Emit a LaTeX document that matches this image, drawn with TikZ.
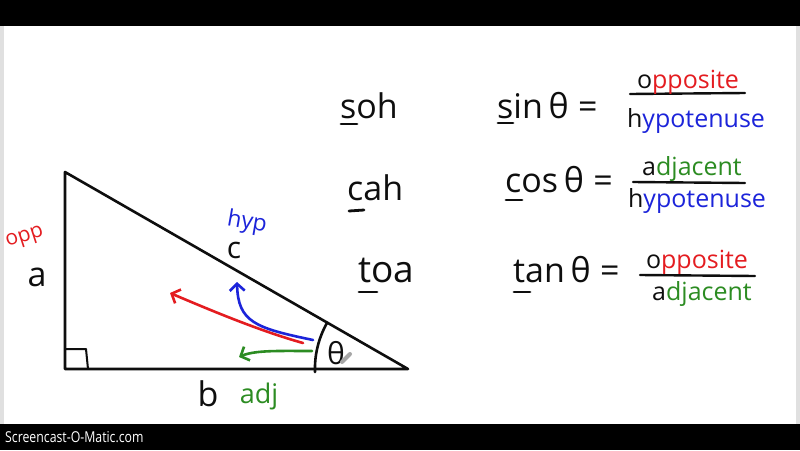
\documentclass[tikz,border=0pt]{standalone}
\usepackage{fontspec}
\setmainfont{Open Sans}
\newfontfamily\scfont[FakeStretch=0.82]{Open Sans}
\usetikzlibrary{arrows.meta,calc}
\definecolor{pred}{RGB}{228,28,32}
\definecolor{pblue}{RGB}{28,36,218}
\definecolor{pgreen}{RGB}{44,140,34}
\definecolor{ink}{RGB}{14,14,14}
\begin{document}
\begin{tikzpicture}[x=1pt,y=-1pt,
  big/.style={font=\fontsize{34}{38}\selectfont, text=ink, inner sep=0pt, anchor=base west},
  frac/.style={font=\fontsize{25}{28}\selectfont, text=ink, inner sep=0pt, anchor=base},
  lbl/.style={inner sep=0pt},
  pen/.style={line width=2.6pt, line cap=round, line join=round, draw=ink},
  uline/.style={line width=2.8pt, line cap=round, draw=ink},
  fracline/.style={line width=2.4pt, line cap=round, draw=ink},
  arr/.style={line width=2.6pt, line cap=round, line join=round,
    -{Straight Barb[length=7pt,width=15pt,line width=2.6pt]}}]
\useasboundingbox (0,0) rectangle (800,450);
% background and bars
\fill[white] (0,0) rectangle (800,450);
\fill[black!12] (0,26) rectangle (4,424);
\fill[black!12] (796,26) rectangle (800,424);
\fill[black] (0,0) rectangle (800,26);
\fill[black] (0,424) rectangle (800,450);
\node[anchor=base west, text=white, inner sep=0pt, font=\scfont\fontsize{15}{16}\selectfont] (sc) at (5,442) {Screencast-O-Matic.com};

% triangle
\coordinate (A) at (65,172);
\coordinate (C) at (65,369);
\coordinate (B) at (408,369);
\draw[pen] (A) -- (C) -- (B) -- cycle;
% right angle mark
\draw[line width=2pt, draw=ink, line join=round] (65,349) -- (86,349) -- (88,369);
% angle arc
\draw[pen] ($(B)+(-93,3)$) arc[start angle=178, end angle=209.7, radius=93];
\node[lbl, font=\fontsize{30}{32}\selectfont, text=ink] (th) at (336,353) {θ};
\draw[line width=4pt, line cap=round, black!35] (342,362) -- (350,354);

% side labels
\node[lbl, text=pred, font=\fontsize{21}{23}\selectfont] (opp) at (25,238) {\rotatebox{18}{opp}};
\node[lbl, text=ink, font=\fontsize{34}{36}\selectfont] (a) at (37,277) {a};
\node[lbl, text=ink, font=\fontsize{30}{32}\selectfont] (c) at (234,250) {c};
\node[lbl, text=pblue, font=\fontsize{23}{25}\selectfont] (hyp) at (247,223) {\rotatebox{-10}{hyp}};
\node[lbl, text=ink, font=\fontsize{34}{36}\selectfont] (b) at (208,394) {b};
\node[lbl, text=pgreen, font=\fontsize{27}{29}\selectfont] (adj) at (259,396) {adj};

% arrows
\coordinate (r1) at (303,343);
\coordinate (r2) at (170,293);
\draw[arr, pred] (r1) .. controls (260,331) and (210,310) .. (r2);
\coordinate (b1) at (313,340);
\coordinate (b2) at (237,282);
\draw[arr, pblue] (b1) .. controls (255,328) and (238,322) .. (b2);
\coordinate (g1) at (312,351);
\coordinate (g2) at (239,357);
\draw[arr, pgreen] (g1) .. controls (280,351) and (255,350) .. (g2);

% mnemonics
\node[big] (soh) at (340,118) {soh};
\node[big] (cah) at (347,200) {cah};
\node[big, font=\fontsize{37}{40}\selectfont] (toa) at (358,282) {toa};
\draw[uline] (341,124) -- (357,124);
\draw[uline] (349,211) -- (364,210);
\draw[uline] (359,292) -- (377,292);

% function names
\node[big] (sin) at (497,118) {sin\,θ\;=};
\node[big] (cos) at (505,192) {cos\,θ\;=};
\node[big] (tan) at (513,282) {tan\,θ\;=};
\draw[uline] (498,123) -- (513,123);
\draw[uline] (506,200) -- (522,200);
\draw[uline] (514,292) -- (530,292);

% fractions
\draw[fracline] (630,94) -- (745,93);
\node[frac] (s1) at (688,88) {o\textcolor{pred}{pposite}};
\node[frac] (s2) at (696,127) {h\textcolor{pblue}{ypotenuse}};
\draw[fracline] (633,182) -- (745,183);
\node[frac] (c1) at (692,175) {a\textcolor{pgreen}{djacent}};
\node[frac] (c2) at (697,207) {h\textcolor{pblue}{ypotenuse}};
\draw[fracline] (640,275) -- (755,276);
\node[frac] (t1) at (697,268) {o\textcolor{pred}{pposite}};
\node[frac] (t2) at (702,300) {a\textcolor{pgreen}{djacent}};
\end{tikzpicture}
\end{document}
